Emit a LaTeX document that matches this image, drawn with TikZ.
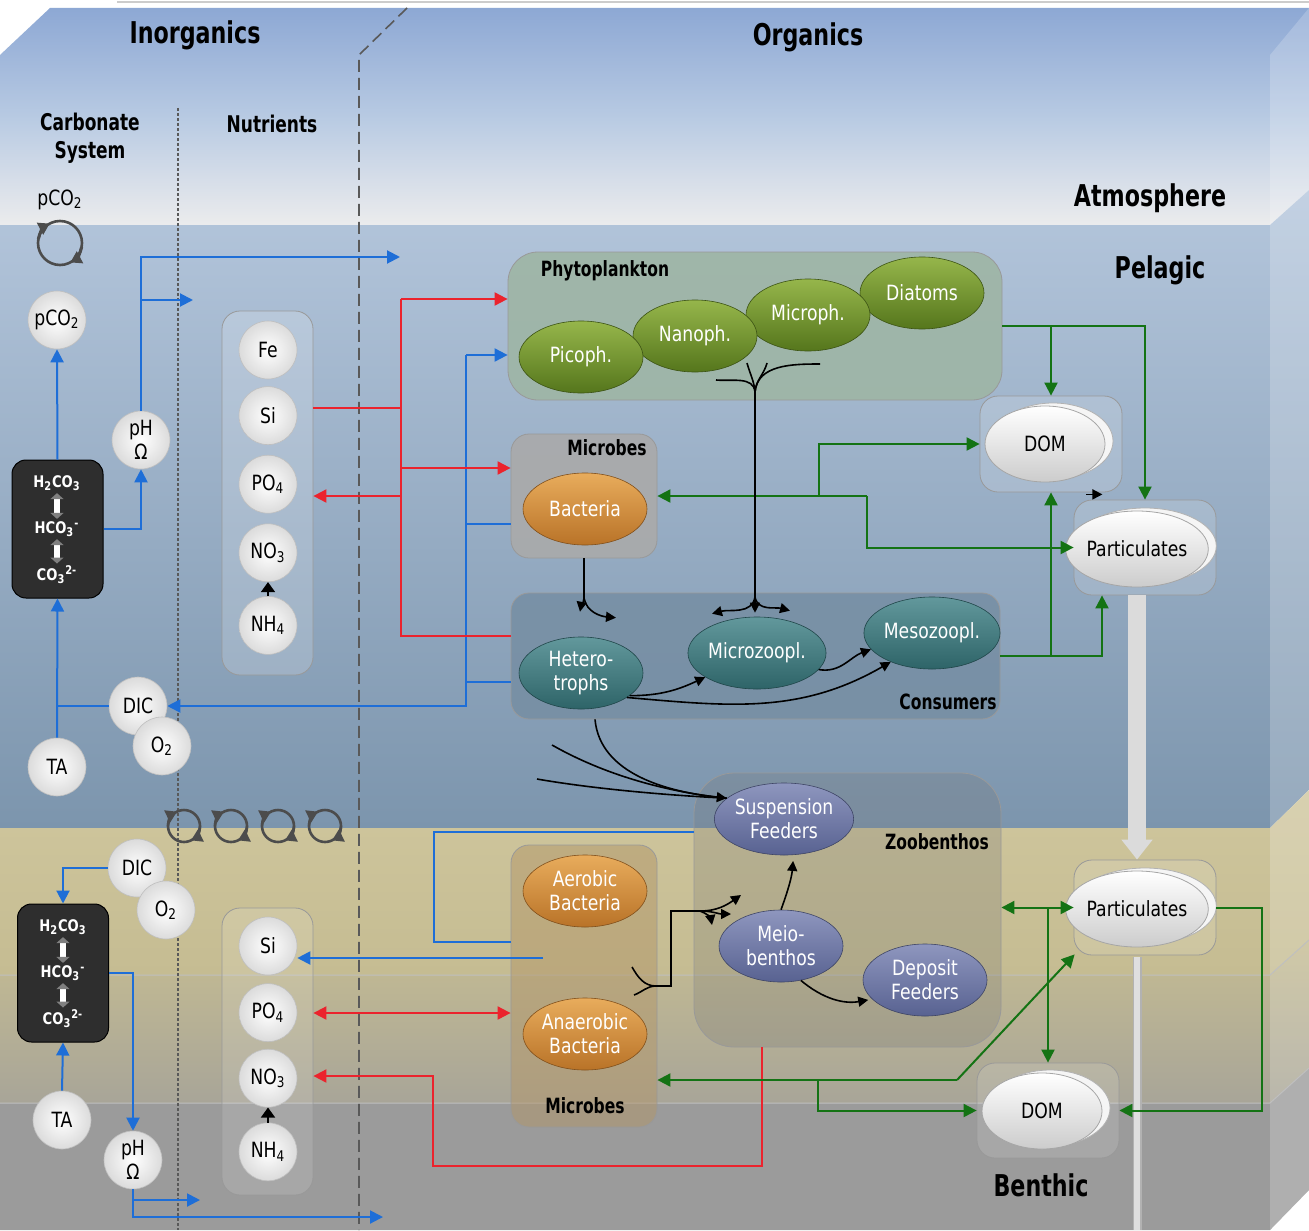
\documentclass[tikz,border=0pt]{standalone}
\usepackage{fontspec}
\setmainfont[FakeStretch=0.82]{DejaVu Sans}
\newfontfamily\hdrfont[FakeStretch=0.74]{DejaVu Sans}
\usepackage{tikz}
\usetikzlibrary{shapes.geometric,arrows.meta,positioning,calc,shadows}
\newcommand{\nodefont}{\fontsize{10.5}{12}\selectfont}
\definecolor{flowblue}{RGB}{30,110,215}
\definecolor{flowred}{RGB}{235,35,45}
\definecolor{flowgreen}{RGB}{20,115,20}
\definecolor{skytop}{RGB}{141,168,212}
\definecolor{skymid}{RGB}{185,203,227}
\definecolor{skylow}{RGB}{236,236,237}
\definecolor{seatop}{RGB}{180,198,220}
\definecolor{seabot}{RGB}{124,149,173}
\definecolor{sedtop}{RGB}{207,198,157}
\definecolor{sedmid}{RGB}{197,188,146}
\definecolor{sedlow}{RGB}{168,165,152}
\definecolor{sedgray}{RGB}{155,155,155}
\definecolor{phytotop}{RGB}{150,182,75}
\definecolor{phytobot}{RGB}{85,118,28}
\definecolor{bacttop}{RGB}{232,172,92}
\definecolor{bactbot}{RGB}{185,115,40}
\definecolor{zooptop}{RGB}{98,152,156}
\definecolor{zoopbot}{RGB}{46,100,104}
\definecolor{benthtop}{RGB}{142,150,190}
\definecolor{benthbot}{RGB}{88,98,145}
\definecolor{phyboxc}{RGB}{158,181,165}
\definecolor{micboxc}{RGB}{170,170,170}
\definecolor{conboxc}{RGB}{118,142,163}
\definecolor{smicboxc}{RGB}{178,150,105}

\begin{document}
\begin{tikzpicture}[x=0.5pt, y=-0.5pt,
    hdr/.style={font=\hdrfont\bfseries\fontsize{15}{17}\selectfont},
    subhdr/.style={font=\hdrfont\bfseries\fontsize{11.5}{14}\selectfont, align=center},
    boxlabel/.style={font=\hdrfont\bfseries\fontsize{10.5}{12}\selectfont},
    grpbox/.style={rectangle, rounded corners=9pt, draw=black!40, line width=0.4pt, inner sep=0pt},
    carbbox/.style={rectangle, rounded corners=7pt, fill=black!82, draw=black, line width=0.5pt, inner sep=0pt, minimum width=45.5pt, minimum height=69pt},
    carbtxt/.style={text=white, font=\bfseries\fontsize{8}{9}\selectfont, inner sep=1pt},
    eqarrow/.style={line width=2.6pt, draw=white, {Triangle[length=3pt,width=6.5pt,black!50]}-{Triangle[length=3pt,width=6.5pt,black!50]}},
    sphere/.style={circle, minimum size=29pt, inner sep=0pt, draw=gray!50, line width=0.3pt, inner color=white, outer color=gray!28, font=\nodefont, align=center},
    organism/.style={ellipse, minimum width=62pt, minimum height=36pt, inner sep=0pt, text=white, align=center, font=\nodefont, line width=0.3pt},
    phyto/.style={organism, top color=phytotop, bottom color=phytobot, draw=phytobot!70!black},
    bact/.style={organism, top color=bacttop, bottom color=bactbot, draw=bactbot!70!black},
    zoopl/.style={organism, top color=zooptop, bottom color=zoopbot, draw=zoopbot!70!black},
    benth/.style={organism, top color=benthtop, bottom color=benthbot, draw=benthbot!70!black},
    pool/.style={ellipse, minimum width=60pt, minimum height=38pt, inner sep=0pt, top color=white, bottom color=gray!40, draw=gray!70, line width=0.4pt, font=\nodefont,
        copy shadow={shadow xshift=4pt, shadow yshift=1.5pt, fill=gray!8, draw=gray!60}},
    flowline/.style={line width=1pt, >={Triangle[length=6.5pt,width=6.5pt]}},
    blueline/.style={flowline, draw=flowblue},
    redline/.style={flowline, draw=flowred},
    greenline/.style={flowline, draw=flowgreen},
    feedline/.style={line width=0.8pt, >={Triangle[length=5pt,width=5pt]}, draw=black},
    cycline/.style={line width=1.3pt, draw=black!70},
    cyctip/.style={cycline, -{Triangle[length=5.5pt,width=6.5pt]}},
    sink/.style={line width=9pt, draw=gray!28, -{Triangle[length=10pt,width=15pt]}}
]

    % Background box
    \fill[white] (0,0) rectangle (1309,1230);
    \useasboundingbox (0,0) rectangle (1309,1230);
    \draw[gray!40, line width=1pt] (117,2) -- (1309,2);
    \begin{scope}
        \clip (0,55) -- (50,8) -- (1309,8) -- (1309,190) -- (1270,225) -- (0,225) -- cycle;
        \shade[top color=skytop, bottom color=skymid] (0,8) rectangle (1309,120);
        \shade[top color=skymid, bottom color=skylow] (0,119) rectangle (1309,226);
    \end{scope}
    \shade[top color=seatop, bottom color=seabot] (0,225) -- (1270,225) -- (1309,190) -- (1309,790) -- (1270,828) -- (0,828) -- cycle;
    \shade[top color=sedtop, bottom color=sedmid] (0,828) -- (1270,828) -- (1309,790) -- (1309,940) -- (1270,975) -- (0,975) -- cycle;
    \shade[top color=sedmid, bottom color=sedlow] (0,975) -- (1270,975) -- (1309,940) -- (1309,1068) -- (1270,1103) -- (0,1103) -- cycle;
    \fill[sedgray] (0,1103) -- (1270,1103) -- (1309,1068) -- (1309,1190) -- (1270,1230) -- (0,1230) -- cycle;
    \fill[white, opacity=0.2] (1270,55) -- (1309,8) -- (1309,1190) -- (1270,1230) -- cycle;
    \draw[black!25, line width=0.5pt] (0,975) -- (1270,975) -- (1309,940);
    \draw[black!25, line width=0.5pt] (0,1103) -- (1270,1103) -- (1309,1068);

    % Section dividers
    \draw[black!65, line width=0.7pt, dash pattern=on 1.5pt off 1pt] (178,108) -- (178,1230);
    \draw[black!65, line width=0.8pt, dash pattern=on 6pt off 3pt] (407,8) -- (359,55) -- (359,1230);

    % Headers
    \node[hdr] (inorg) at (195,35) {Inorganics};
    \node[hdr] (org) at (808,37) {Organics};
    \node[subhdr] (carbhdr) at (90,138) {Carbonate\\System};
    \node[subhdr] (nuthdr) at (272,124) {Nutrients};
    \node[hdr] (atmo) at (1150,198) {Atmosphere};
    \node[hdr] (pelag) at (1160,270) {Pelagic};
    \node[hdr] (benthlbl) at (1041,1185) {Benthic};

    % Group boxes
    \node[grpbox, fill=white, fill opacity=0.18, minimum width=45.5pt, minimum height=182pt] (nutbox) at (267.5,493) {};
    \node[grpbox, rounded corners=15pt, fill=phyboxc, fill opacity=0.9, minimum width=247pt, minimum height=74pt] (phybox) at (755,326) {};
    \node[grpbox, fill=micboxc, fill opacity=0.9, minimum width=73pt, minimum height=62pt] (micbox) at (584,496) {};
    \node[grpbox, fill=conboxc, fill opacity=0.85, minimum width=244.5pt, minimum height=63pt] (conbox) at (755.5,656) {};
    \node[grpbox, fill=white, fill opacity=0.15, minimum width=71pt, minimum height=48pt] (dombox) at (1051,444) {};
    \node[grpbox, fill=white, fill opacity=0.15, minimum width=71pt, minimum height=47.5pt] (partbox) at (1145,547.5) {};
    \node[grpbox, rounded corners=20pt, fill=black!55, fill opacity=0.25, minimum width=153.5pt, minimum height=137pt] (zoobox) at (847.5,910) {};
    \node[grpbox, fill=smicboxc, fill opacity=0.5, minimum width=73pt, minimum height=141pt] (smicbox) at (584,986) {};
    \node[grpbox, fill=white, fill opacity=0.13, minimum width=45.5pt, minimum height=143.5pt] (snutbox) at (267.5,1051.5) {};
    \node[grpbox, fill=white, fill opacity=0.13, minimum width=71pt, minimum height=47.5pt] (spartbox) at (1145,907.5) {};
    \node[grpbox, fill=white, fill opacity=0.13, minimum width=71pt, minimum height=47.5pt] (sdombox) at (1048,1110.5) {};

    \node[boxlabel] (phylbl) at (605,271) {Phytoplankton};
    \node[boxlabel] (miclbl) at (607,448) {Microbes};
    \node[boxlabel] (conlbl) at (948,702) {Consumers};
    \node[boxlabel] (zoolbl) at (937,842) {Zoobenthos};
    \node[boxlabel] (smiclbl) at (585,1106) {Microbes};

    % Carbonate system, pelagic
    \node (pco2lbl) at (60,200) {\nodefont pCO\textsubscript{2}};
    \draw[cycline] (60,243) circle (11pt);
    \draw[cyctip, line width=1.5pt] (60,243) ++(170:11pt) arc[start angle=170, end angle=118, radius=11pt];
    \draw[cyctip, line width=1.5pt] (60,243) ++(-10:11pt) arc[start angle=-10, end angle=-62, radius=11pt];
    \node[sphere] (pco2) at (57,320) {pCO\textsubscript{2}};
    \node[sphere] (ph) at (141,440) {pH\\Ω};
    \node[carbbox] (carb) at (57.5,529) {};
    \node[carbtxt] (h2co3) at (57,483) {H\textsubscript{2}CO\textsubscript{3}};
    \node[carbtxt] (hco3) at (57,529) {HCO\textsubscript{3}\textsuperscript{-}};
    \node[carbtxt] (co3) at (57,575) {CO\textsubscript{3}\textsuperscript{2-}};
    \draw[eqarrow] (h2co3.south) -- (hco3.north);
    \draw[eqarrow] (hco3.south) -- (co3.north);
    \node[sphere] (dic) at (138,706) {DIC};
    \node[sphere] (o2) at (162,746) {O\textsubscript{2}};
    \node[sphere] (ta) at (57,767) {TA};

    % Nutrients, pelagic
    \node[sphere] (fe) at (268,350) {Fe};
    \node[sphere, below=3.5pt of fe] (si) {Si};
    \node[sphere, below=5pt of si] (po4) {PO\textsubscript{4}};
    \node[sphere, below=5pt of po4] (no3) {NO\textsubscript{3}};
    \node[sphere, below=7pt of no3] (nh4) {NH\textsubscript{4}};

    % Carbonate system and nutrients, benthic
    \node[sphere] (sdic) at (137,868) {DIC};
    \node[sphere] (so2) at (166,910) {O\textsubscript{2}};
    \node[carbbox] (scarb) at (63,973) {};
    \node[carbtxt] (sh2co3) at (63,927) {H\textsubscript{2}CO\textsubscript{3}};
    \node[carbtxt] (shco3) at (63,973) {HCO\textsubscript{3}\textsuperscript{-}};
    \node[carbtxt] (sco3) at (63,1019) {CO\textsubscript{3}\textsuperscript{2-}};
    \draw[eqarrow] (sh2co3.south) -- (shco3.north);
    \draw[eqarrow] (shco3.south) -- (sco3.north);
    \node[sphere] (sta) at (62,1120) {TA};
    \node[sphere] (sph) at (133,1160) {pH\\Ω};
    \node[sphere] (ssi) at (268,946) {Si};
    \node[sphere, below=4pt of ssi] (spo4) {PO\textsubscript{4}};
    \node[sphere, below=3.5pt of spo4] (sno3) {NO\textsubscript{3}};
    \node[sphere, below=7.5pt of sno3] (snh4) {NH\textsubscript{4}};

    % Exchange at the sea floor
    \foreach \cx in {184,231,278,325}{
        \draw[cycline] (\cx,826) circle (8pt);
        \draw[cyctip] (\cx,826) ++(178:8pt) arc[start angle=178, end angle=116, radius=8pt];
        \draw[cyctip] (\cx,826) ++(-2:8pt) arc[start angle=-2, end angle=-64, radius=8pt];
    }

    % Organisms
    \node[phyto] (diat) at (922,293) {Diatoms};
    \node[phyto] (micro) at (808,315) {Microph.};
    \node[phyto] (nano) at (695,336) {Nanoph.};
    \node[phyto] (pico) at (581,357) {Picoph.};
    \node[bact] (bact) at (585,509) {Bacteria};
    \node[zoopl] (hetero) at (581,673) {Hetero-\\trophs};
    \node[zoopl] (microzoo) at (757,653) {Microzoopl.};
    \node[zoopl] (mesozoo) at (932,633) {Mesozoopl.};
    \node[benth] (susp) at (784,819) {Suspension\\Feeders};
    \node[benth] (meio) at (781,946) {Meio-\\benthos};
    \node[benth] (depo) at (925,980) {Deposit\\Feeders};
    \node[bact] (aerob) at (585,891) {Aerobic\\Bacteria};
    \node[bact] (anaer) at (585,1034) {Anaerobic\\Bacteria};

    % Detritus pools
    \node[pool] (dom) at (1045,444) {DOM};
    \node[pool] (partic) at (1137,549) {Particulates};
    \node[pool] (spartic) at (1137,909) {Particulates};
    \node[pool] (sdom) at (1042,1111) {DOM};

    % Blue: carbon and oxygen, pelagic
    \coordinate (atmout) at (400,257);
    \coordinate (nutin) at (193,300);
    \coordinate (btop) at (466,355);
    \coordinate (bbot) at (466,706);
    \draw[blueline,->] (btop) -- (btop -| phybox.west);
    \draw[blueline,->] (btop) -- (bbot) -- (dic.east |- bbot);
    \draw[blueline] (micbox.west |- 0,524) -- (btop |- 0,524);
    \draw[blueline] (conbox.west |- 0,682) -- (btop |- 0,682);
    \draw[blueline] (dic.west) -- (ta.north |- dic.west);
    \draw[blueline,->] (ta.north) -- (carb.south);
    \draw[blueline,->] (carb.north) -- (pco2.south);
    \draw[blueline,->] (carb.east) -| (ph.south);
    \draw[blueline,->] (ph.north) |- (atmout);
    \draw[blueline,->] (ph.north |- nutin) -- (nutin);

    % Red: nutrients, pelagic
    \coordinate (rtop) at (401,299);
    \coordinate (rbot) at (401,636);
    \draw[redline] (nutbox.east |- 0,408) -- (rtop |- 0,408);
    \draw[redline,->] (rtop) -- (rtop -| phybox.west);
    \draw[redline] (rtop) -- (rbot) -- (rbot -| conbox.west);
    \draw[redline,->] (rtop |- 0,468) -- (micbox.west |- 0,468);
    \draw[redline,->] (rtop |- 0,496) -- (nutbox.east |- 0,496);

    % Green: detritus, pelagic
    \coordinate (gj) at (867,496);
    \draw[greenline,->] (phybox.east) -| (partbox.north);
    \draw[greenline,->] (phybox.east -| dombox.north) -- (dombox.north);
    \draw[greenline,->] (conbox.east) -| ([xshift=-21.5pt]partbox.south);
    \draw[greenline,->] (conbox.east -| dombox.south) -- (dombox.south);
    \draw[greenline,->] (gj) -- (micbox.east |- gj);
    \draw[greenline,->] (gj) |- (partbox.west);
    \draw[greenline,->] (gj -| 819,0) |- (dombox.west);
    \draw[feedline,->] ([xshift=-18pt,yshift=-1pt]dombox.south east) -- ([xshift=-10pt,yshift=-1pt]dombox.south east);

    % Sinking particulates
    \coordinate (rodend) at (1137,1230);
    \draw[sink] ([xshift=-4pt]partbox.south) -- ([xshift=-4pt]spartbox.north);
    \draw[draw=gray!25, line width=3pt, preaction={draw=gray!60, line width=4.5pt}] ([xshift=-4pt,yshift=-1pt]spartbox.south) -- (rodend);

    % Black: grazing, pelagic
    \coordinate (graztop) at (755,392);
    \coordinate (grazbot) at (755,597);
    \coordinate (bj) at (584,598);
    \draw[feedline] (716,380) to[out=-5,in=95] (graztop);
    \draw[feedline] (747,363) to[out=-75,in=95] (graztop);
    \draw[feedline] (767,363) to[out=-105,in=85] (graztop);
    \draw[feedline] (820,364) to[out=180,in=85] (graztop);
    \draw[feedline] (graztop) -- (grazbot);
    \draw[feedline,->] (grazbot) to[out=-100,in=15] ($(microzoo.north)+(-45,-3)$);
    \draw[feedline,->] (grazbot) -- ($(microzoo.north)+(-2,-4)$);
    \draw[feedline,->] (grazbot) to[out=-80,in=165] ($(microzoo.north)+(33,-6)$);
    \draw[feedline] (micbox.south) -- (bj);
    \draw[feedline,->] (bj) to[out=-95,in=80] ($(hetero.north)+(-1,-25)$);
    \draw[feedline,->] (bj) to[out=-80,in=175] ($(hetero.north)+(35,-19)$);
    \draw[feedline,->] (hetero.-25) to[out=0,in=205] (microzoo.205);
    \draw[feedline,->] (microzoo.-15) to[out=-10,in=200] (mesozoo.195);
    \draw[feedline,->] (hetero.-28) to[out=-5,in=210] (mesozoo.215);
    \draw[feedline,->] (conbox.south -| 595,0) .. controls (600,775) and (670,792) .. (susp.160);
    \draw[feedline] (552,745) .. controls (610,778) and (675,793) .. (susp.160);
    \draw[feedline] (537,779) .. controls (600,790) and (680,796) .. (susp.160);

    % Blue: carbon and oxygen, benthic
    \coordinate (aerout) at (543,958);
    \coordinate (sedout) at (383,1217);
    \coordinate (sedout2) at (200,1200);
    \draw[blueline] (zoobox.west |- 0,832) -| (434,942) -- (smicbox.west |- 0,942);
    \draw[blueline,->] (aerout) -- (ssi.east |- aerout);
    \draw[blueline,->] (sdic.west) -| (scarb.north);
    \draw[blueline,->] (sta.north) -- (scarb.south);
    \draw[blueline,->] (scarb.east) -| (sph.north);
    \draw[blueline,->] (sph.south) |- (sedout);
    \draw[blueline,->] (sph.south |- sedout2) -- (sedout2);

    % Red: nutrients, benthic
    \draw[redline,<->] (snutbox.east |- 0,1013) -- (smicbox.west |- 0,1013);
    \draw[redline,->] (zoobox.south -| 762,0) |- (433,1166) |- (snutbox.east |- 0,1076);

    % Green: detritus, benthic
    \coordinate (gk) at (957,1080);
    \draw[greenline,<->] (zoobox.east |- spartbox.west) -- (spartbox.west);
    \draw[greenline,->] (spartbox.west -| sdombox.north) -- (sdombox.north);
    \draw[greenline,->] (gk) -- (smicbox.east |- gk);
    \draw[greenline,->] (gk) -- ([xshift=0.5pt,yshift=0.5pt]spartbox.south west);
    \draw[greenline,->] (gk -| 818,0) |- (sdombox.west);
    \draw[greenline,->] (spartbox.east) -- ++(46,0) |- (sdombox.east);

    % Black: feeding, benthic
    \coordinate (sj) at (656,986);
    \coordinate (sk) at (700,911);
    \draw[feedline] (632,967) to[out=-60,in=180] (sj);
    \draw[feedline] (634,995) to[out=20,in=180] (sj);
    \draw[feedline] (sj) -- (671,986) -- (671,911) -- (sk);
    \draw[feedline,->] (sk) to[out=0,in=215] (741,895);
    \draw[feedline,->] (sk) to[out=-20,in=100] (712,925);
    \draw[feedline,->] (sk) to[out=0,in=180] (731,914);
    \draw[feedline,->, shorten >=3pt] (meio.north) to[out=70,in=-95] (susp.-75);
    \draw[feedline,->, shorten >=2pt] (meio.-60) to[out=-40,in=190] (depo.200);

    % Nitrification
    \draw[feedline, -{Triangle[length=5pt,width=7pt]}] (nh4.north) -- (no3.south);
    \draw[feedline, -{Triangle[length=5pt,width=7pt]}] (snh4.north) -- (sno3.south);

\end{tikzpicture}
\end{document}
